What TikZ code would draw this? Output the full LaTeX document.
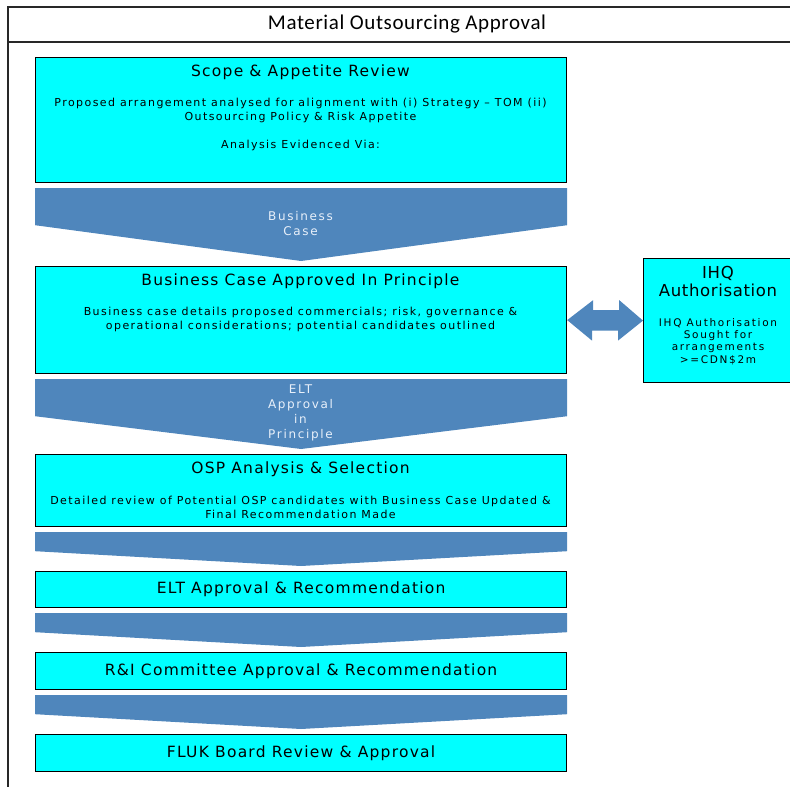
\documentclass[tikz,border=0pt]{standalone}
\usepackage{fontspec}
\setmainfont{DejaVu Sans}
\newfontfamily\titlefont{Carlito}
\usetikzlibrary{calc}
\definecolor{boxcyan}{RGB}{0,255,255}
\definecolor{chevblue}{RGB}{79,134,188}
\definecolor{chevtext}{RGB}{232,240,250}
\definecolor{framegray}{RGB}{40,40,40}
\tikzset{
  stage/.style={draw=black, line width=1.2pt, fill=boxcyan, minimum width=531pt,
    inner sep=0pt, anchor=north west},
  chev/.style={fill=chevblue, draw=none},
  headtext/.style={font=\fontsize{15.5}{18}\selectfont\addfontfeatures{LetterSpace=8}},
  bodytext/.style={font=\fontsize{11}{14}\selectfont\addfontfeatures{LetterSpace=13},
    align=center},
  chevlabel/.style={text=chevtext, align=center,
    font=\fontsize{12}{15.2}\selectfont\addfontfeatures{LetterSpace=14}},
}
% downward chevron joining two stacked stages
\newcommand\chevronbetween[3]{%
  \fill[chev] ($(#1.south west)+(0,5)$) -- ($(#1.south east)+(0,5)$)
    -- ++(0,#3) -- ($(#2.north)+(0,-5)$) -- ($(#1.south west)+(0,5+#3)$) -- cycle;}
\begin{document}
\begin{tikzpicture}[x=1pt,y=-1pt]
\useasboundingbox (0,0) rectangle (790,787);
\clip (0,0) rectangle (790,787);

% outer frame with title band
\draw[framegray, line width=1.2pt] (8,800) -- (8,7) -- (800,7);
\draw[framegray, line width=1.2pt] (8,42) -- (800,42);
\node[font=\titlefont\fontsize{21}{24}\selectfont\addfontfeatures{LetterSpace=3}] (title) at (407,24) {Material Outsourcing Approval};

% stages
\node[stage, minimum height=125pt] (b1) at (35,57) {};
\node[stage, minimum height=107pt] (b2) at (35,266) {};
\node[stage, minimum height=72pt]  (b3) at (35,454) {};
\node[stage, minimum height=36pt]  (b4) at (35,571) {};
\node[stage, minimum height=37pt]  (b5) at (35,652) {};
\node[stage, minimum height=37pt]  (b6) at (35,734) {};
\node[draw=black, line width=1.2pt, fill=boxcyan, minimum width=150pt, minimum height=124pt,
  inner sep=0pt, anchor=north west] (ihq) at (643,258) {};

% chevrons
\chevronbetween{b1}{b2}{37}
\chevronbetween{b2}{b3}{37}
\chevronbetween{b3}{b4}{19}
\chevronbetween{b4}{b5}{19}
\chevronbetween{b5}{b6}{19}

% two-way arrow to IHQ
\fill[chev] (b2.east) -- ++(26,-20) -- ++(0,10) -- ++(26,0) -- ++(0,-10)
  -- (ihq.west) -- ++(-25,20) -- ++(0,-10) -- ++(-26,0) -- ++(0,10) -- cycle;

% stage texts
\node[headtext] (t1) at (300.5,72) {Scope \& Appetite Review};
\node[bodytext] (d1) at (300.5,110) {Proposed arrangement analysed for alignment with (i) Strategy – TOM (ii)\\Outsourcing Policy \& Risk Appetite};
\node[bodytext] (e1) at (300.5,145) {Analysis Evidenced Via:};
\node[headtext] (t2) at (300.5,281) {Business Case Approved In Principle};
\node[bodytext] (d2) at (300.5,319) {Business case details proposed commercials; risk, governance \&\\operational considerations; potential candidates outlined};
\node[headtext] (t3) at (300.5,469) {OSP Analysis \& Selection};
\node[bodytext] (d3) at (300.5,507) {Detailed review of Potential OSP candidates with Business Case Updated \&\\Final Recommendation Made};
\node[headtext] (t4) at (b4.center) {ELT Approval \& Recommendation};
\node[headtext] (t5) at (b5.center) {R\&I Committee Approval \& Recommendation};
\node[headtext] (t6) at (b6.center) {FLUK Board Review \& Approval};

% chevron labels
\node[chevlabel] (c1) at (300.5,223.5) {Business\\Case};
\node[chevlabel] (c2) at (300.5,413) {ELT\\Approval\\in\\Principle};

% IHQ texts
\node[align=center, font=\fontsize{16.5}{18}\selectfont\addfontfeatures{LetterSpace=4}] (ti) at (718,281) {IHQ\\Authorisation};
\node[align=center, font=\fontsize{10.5}{12.3}\selectfont\addfontfeatures{LetterSpace=16}] (di) at (718,341.5) {IHQ Authorisation\\Sought for\\arrangements\\>=CDN\$2m};
\end{tikzpicture}
\end{document}
